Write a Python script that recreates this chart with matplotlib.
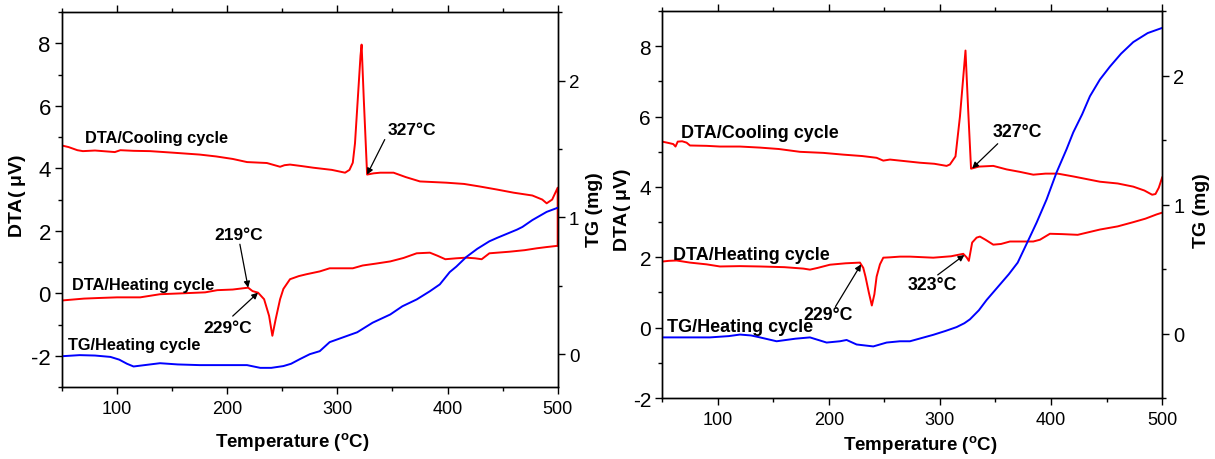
import numpy as np
import matplotlib.pyplot as plt
from matplotlib.ticker import MultipleLocator

plt.rcParams['font.family'] = ['Liberation Sans', 'DejaVu Sans']
plt.rcParams['mathtext.fontset'] = 'custom'
plt.rcParams['mathtext.rm'] = 'Liberation Sans'
plt.rcParams['mathtext.bf'] = 'Liberation Sans:bold'
plt.rcParams['axes.unicode_minus'] = False

# ---- left panel: DTA cooling / heating and TG heating ----
L_cool_T = [50, 56, 64, 69, 80, 98, 103, 115, 130, 151, 175, 190, 205, 218, 236, 248, 252,
            257, 268, 278, 295, 307, 311, 314, 316, 318.5, 321, 322, 324, 326, 327, 333,
            339, 351, 362, 375, 387, 399, 415, 429, 445, 460, 477, 486, 490, 495, 500, 500]
L_cool_DTA = [4.73, 4.68, 4.58, 4.55, 4.57, 4.52, 4.58, 4.56, 4.55, 4.5, 4.44, 4.38, 4.3, 4.2,
              4.17, 4.05, 4.1, 4.12, 4.07, 4.02, 3.95, 3.86, 3.95, 4.18, 4.8, 6.2, 7.6, 7.96,
              6.2, 4.6, 3.8, 3.84, 3.86, 3.86, 3.72, 3.58, 3.56, 3.54, 3.5, 3.42, 3.32, 3.22,
              3.13, 3.0, 2.88, 3.0, 3.38, 1.52]

L_heat_T = [50, 70, 84, 100, 121, 139, 160, 180, 191, 205, 219, 223, 228, 233.5, 238, 241,
            244, 248, 251, 257, 265, 272, 284, 293, 314, 323, 335, 348, 360, 372, 384, 391,
            398, 408, 417, 425, 431, 438, 456, 470, 481, 490, 500]
L_heat_DTA = [-0.23, -0.17, -0.15, -0.13, -0.13, -0.03, 0.0, 0.03, 0.1, 0.12, 0.18, 0.07, 0.02,
              -0.19, -0.72, -1.36, -0.83, -0.19, 0.14, 0.45, 0.55, 0.61, 0.7, 0.8, 0.8, 0.89,
              0.95, 1.02, 1.13, 1.28, 1.3, 1.2, 1.09, 1.12, 1.14, 1.12, 1.09, 1.28, 1.33, 1.38,
              1.44, 1.48, 1.52]

L_tg_T = [50, 66, 80, 94, 102, 109, 115, 125, 139, 155, 175, 200, 218, 224, 230, 240, 251,
          258, 266, 275, 284, 293, 318, 332, 348, 359, 372, 384, 393, 402, 408, 417, 427,
          438, 445, 463, 468, 477, 490, 500]
L_tg = [-0.015, -0.007, -0.01, -0.02, -0.04, -0.07, -0.09, -0.08, -0.066, -0.075, -0.08,
        -0.08, -0.08, -0.09, -0.10, -0.10, -0.087, -0.07, -0.036, 0.0, 0.022, 0.088, 0.16,
        0.23, 0.29, 0.35, 0.4, 0.46, 0.51, 0.6, 0.64, 0.71, 0.77, 0.825, 0.85, 0.91, 0.93,
        0.98, 1.04, 1.07]

# ---- right panel ----
R_cool_T = [50, 56, 60, 62, 64, 68, 72, 75, 90, 102, 120, 138, 155, 174, 195, 213, 230, 243,
            249, 255, 264, 273, 282, 295, 306, 309, 314, 318, 323, 325.4, 328, 335, 348,
            360, 372, 384, 395, 406, 420, 444, 460, 474, 484, 491, 494, 497, 500]
R_cool_DTA = [5.29, 5.25, 5.22, 5.15, 5.29, 5.3, 5.26, 5.18, 5.17, 5.15, 5.15, 5.12, 5.08,
              5.0, 4.97, 4.92, 4.88, 4.83, 4.75, 4.78, 4.75, 4.72, 4.69, 4.66, 4.6, 4.64,
              4.87, 6.0, 7.88, 6.2, 4.52, 4.58, 4.6, 4.5, 4.43, 4.35, 4.38, 4.38, 4.3, 4.15,
              4.1, 4.01, 3.9, 3.78, 3.8, 3.98, 4.27]

R_heat_T = [50, 56, 63, 75, 90, 102, 120, 138, 160, 177, 183, 190, 201, 215, 228, 231, 233,
            236, 238.7, 241, 243, 246, 249, 255, 264, 273, 294, 310, 321, 324, 326, 329, 333,
            336, 341, 348, 355, 363, 375, 384, 390, 399, 410, 424, 444, 460, 474, 485, 495, 500]
R_heat_DTA = [1.88, 1.9, 1.91, 1.85, 1.8, 1.74, 1.75, 1.74, 1.72, 1.68, 1.65, 1.7, 1.79, 1.83,
              1.85, 1.7, 1.45, 1.0, 0.63, 0.95, 1.45, 1.8, 1.99, 2.0, 2.02, 2.02, 1.99, 2.03,
              2.1, 2.0, 1.9, 2.42, 2.56, 2.59, 2.5, 2.36, 2.38, 2.45, 2.45, 2.45, 2.5, 2.67,
              2.66, 2.64, 2.79, 2.88, 3.0, 3.1, 3.22, 3.27]

R_tg_T = [50, 70, 93, 110, 120, 130, 138, 153, 170, 183, 198, 210, 216, 225, 240, 252, 264,
          273, 294, 305, 315, 322, 327, 335, 342, 354, 362, 370, 381, 387, 396, 405, 414,
          420, 428, 435, 444, 453, 463, 474, 487, 500]
R_tg = [-0.03, -0.03, -0.03, -0.02, -0.008, -0.015, -0.03, -0.06, -0.04, -0.03, -0.07, -0.06,
        -0.05, -0.085, -0.1, -0.07, -0.06, -0.06, -0.01, 0.02, 0.05, 0.08, 0.11, 0.18, 0.26,
        0.38, 0.46, 0.55, 0.75, 0.86, 1.04, 1.25, 1.43, 1.56, 1.7, 1.84, 1.97, 2.07, 2.17,
        2.26, 2.33, 2.37]

RED = '#ff0000'
BLUE = '#0000ff'


def style_axes(ax, ax2, dta_size, tg_size):
    ax.set_xlim(50, 500)
    ax.xaxis.set_major_locator(MultipleLocator(100))
    ax.xaxis.set_minor_locator(MultipleLocator(50))
    ax.yaxis.set_major_locator(MultipleLocator(2))
    ax.yaxis.set_minor_locator(MultipleLocator(1))
    ax2.yaxis.set_major_locator(MultipleLocator(1))
    ax2.yaxis.set_minor_locator(MultipleLocator(0.5))
    ax.tick_params(which='both', direction='out', width=1, top=True, right=False)
    ax.tick_params(which='major', length=5)
    ax.tick_params(which='minor', length=3)
    ax.tick_params(axis='x', labelsize=13, pad=4)
    ax.tick_params(axis='y', labelsize=dta_size, pad=3)
    ax2.tick_params(which='both', direction='out', width=1)
    ax2.tick_params(which='major', length=5, labelsize=tg_size, pad=3)
    ax2.tick_params(which='minor', length=3)
    for a in (ax, ax2):
        for s in a.spines.values():
            s.set_linewidth(1.0)


fig = plt.figure(figsize=(12.15, 4.6), dpi=100)

# left panel
ax = fig.add_axes([0.051, 0.1565, 0.408, 0.815])
ax2 = ax.twinx()
ax.plot(L_cool_T, L_cool_DTA, color=RED, lw=1.4)
ax.plot(L_heat_T, L_heat_DTA, color=RED, lw=1.4)
ax2.plot(L_tg_T, L_tg, color=BLUE, lw=1.4)
ax.set_ylim(-3, 9)
ax2.set_ylim(-0.24, 2.5)
style_axes(ax, ax2, 16, 13.5)

ax.set_xlabel(r'Temperature ($\mathbf{^o}$C)', fontsize=13.5, fontweight='bold')
ax.xaxis.set_label_coords(0.464, -0.144)
ax.xaxis.label.set_va('center')
ax.set_ylabel(r'DTA( $\mathbf{\mu}$V)', fontsize=14, fontweight='bold')
ax.yaxis.set_label_coords(-0.089, 0.512)
ax.yaxis.label.set_va('center')
ax2.set_ylabel('TG (mg)', fontsize=14, fontweight='bold')
ax2.yaxis.set_label_coords(1.075, 0.475)
ax2.yaxis.label.set_va('center')

ax.text(71, 5.0, 'DTA/Cooling cycle', fontsize=11.8, fontweight='bold', va='center')
ax.text(59, 0.29, 'DTA/Heating cycle', fontsize=11.8, fontweight='bold', va='center')
ax.text(55.5, -1.63, 'TG/Heating cycle', fontsize=11.8, fontweight='bold', va='center')
ax.text(346, 5.24, '327°C', fontsize=12.5, fontweight='bold', va='center')
ax.text(210, 1.88, '219°C', fontsize=12.5, fontweight='bold', va='center', ha='center')
ax.text(200, -1.09, '229°C', fontsize=12.5, fontweight='bold', va='center', ha='center')
arrow = dict(arrowstyle='-|>', color='k', lw=0.9, mutation_scale=9, shrinkA=0, shrinkB=0)
ax.annotate('', xy=(327, np.interp(327, L_cool_T[:-1], L_cool_DTA[:-1])),
            xytext=(343, 4.92), arrowprops=arrow)
ax.annotate('', xy=(219, np.interp(219, L_heat_T, L_heat_DTA)),
            xytext=(211.5, 1.57), arrowprops=arrow)
ax.annotate('', xy=(228, np.interp(228, L_heat_T, L_heat_DTA)),
            xytext=(205, -0.73), arrowprops=arrow)

# right panel
bx = fig.add_axes([0.545, 0.1326, 0.4115, 0.841])
bx2 = bx.twinx()
bx.plot(R_cool_T, R_cool_DTA, color=RED, lw=1.4)
bx.plot(R_heat_T, R_heat_DTA, color=RED, lw=1.4)
bx2.plot(R_tg_T, R_tg, color=BLUE, lw=1.4)
bx.set_ylim(-2, 9)
bx2.set_ylim(-0.5, 2.5)
style_axes(bx, bx2, 15, 14.5)

bx.set_xlabel(r'Temperature ($\mathbf{^o}$C)', fontsize=13.5, fontweight='bold')
bx.xaxis.set_label_coords(0.516, -0.119)
bx.xaxis.label.set_va('center')
bx.set_ylabel(r'DTA( $\mathbf{\mu}$V)', fontsize=14, fontweight='bold')
bx.yaxis.set_label_coords(-0.08, 0.488)
bx.yaxis.label.set_va('center')
bx2.set_ylabel('TG (mg)', fontsize=14, fontweight='bold')
bx2.yaxis.set_label_coords(1.078, 0.488)
bx2.yaxis.label.set_va('center')

bx.text(67, 5.55, 'DTA/Cooling cycle', fontsize=13, fontweight='bold', va='center')
bx.text(60, 2.08, 'DTA/Heating cycle', fontsize=13, fontweight='bold', va='center')
bx.text(54.5, 0.03, 'TG/Heating cycle', fontsize=13, fontweight='bold', va='center')
bx.text(347, 5.58, '327°C', fontsize=12.8, fontweight='bold', va='center')
bx.text(199, 0.37, '229°C', fontsize=12.8, fontweight='bold', va='center', ha='center')
bx.text(293, 1.22, '323°C', fontsize=12.8, fontweight='bold', va='center', ha='center')
bx.annotate('', xy=(329, np.interp(329, R_cool_T, R_cool_DTA)),
            xytext=(352, 5.23), arrowprops=arrow)
bx.annotate('', xy=(229, np.interp(229, R_heat_T, R_heat_DTA)),
            xytext=(206, 0.6), arrowprops=arrow)
bx.annotate('', xy=(322, np.interp(322, R_heat_T, R_heat_DTA)),
            xytext=(298, 1.5), arrowprops=arrow)

fig.savefig('out.png', dpi=100)
